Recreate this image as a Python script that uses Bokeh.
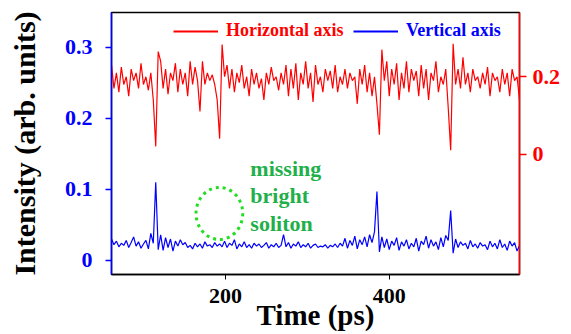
import numpy as np
from bokeh.plotting import figure
from bokeh.models import (Range1d, LinearAxis, FixedTicker, Legend, LegendItem,
                          NumeralTickFormatter)
from bokeh.core.properties import value
from bokeh.embed import file_html
from bokeh.resources import INLINE

# ---- data ----
time_ps = list(range(61, 560, 3))  # 167 samples

horizontal_axis = [  # right axis (red)
    0.23, 0.17, 0.21, 0.16, 0.225, 0.18, 0.20, 0.15, 0.22, 0.19,
    0.21, 0.17, 0.235, 0.18, 0.20, 0.165, 0.21, 0.14, 0.02, 0.265,
    0.24, 0.17, 0.22, 0.155, 0.21, 0.19, 0.235, 0.16, 0.22, 0.18,
    0.21, 0.15, 0.24, 0.18, 0.225, 0.19, 0.11, 0.24, 0.18, 0.21,
    0.19, 0.205, 0.18, 0.14, 0.04, 0.283, 0.20, 0.23, 0.17, 0.22,
    0.16, 0.21, 0.185, 0.23, 0.17, 0.20, 0.15, 0.22, 0.18, 0.21,
    0.17, 0.195, 0.14, 0.21, 0.18, 0.225, 0.19, 0.20, 0.165, 0.21,
    0.18, 0.23, 0.15, 0.22, 0.17, 0.235, 0.14, 0.21, 0.18, 0.24,
    0.17, 0.21, 0.135, 0.23, 0.18, 0.20, 0.16, 0.22, 0.19, 0.215,
    0.17, 0.23, 0.16, 0.20, 0.18, 0.22, 0.17, 0.21, 0.19, 0.20,
    0.13, 0.22, 0.18, 0.23, 0.16, 0.21, 0.15, 0.20, 0.13, 0.05,
    0.27, 0.19, 0.24, 0.15, 0.22, 0.18, 0.235, 0.14, 0.21, 0.17,
    0.24, 0.16, 0.22, 0.19, 0.215, 0.15, 0.23, 0.17, 0.22, 0.14,
    0.21, 0.19, 0.24, 0.16, 0.20, 0.18, 0.22, 0.12, 0.01, 0.285,
    0.18, 0.22, 0.17, 0.25, 0.18, 0.21, 0.16, 0.22, 0.19, 0.20,
    0.17, 0.21, 0.18, 0.225, 0.15, 0.21, 0.19, 0.20, 0.16, 0.22,
    0.18, 0.21, 0.15, 0.22, 0.19, 0.20, 0.14,
]

vertical_axis = [  # left axis (blue)
    0.030, 0.022, 0.027, 0.019, 0.024, 0.021, 0.028, 0.018, 0.025, 0.033,
    0.020, 0.026, 0.017, 0.023, 0.028, 0.016, 0.038, 0.024, 0.110, 0.015,
    0.036, 0.014, 0.032, 0.018, 0.030, 0.013, 0.027, 0.020, 0.029, 0.022,
    0.025, 0.018, 0.021, 0.016, 0.024, 0.019, 0.023, 0.017, 0.026, 0.020,
    0.022, 0.018, 0.025, 0.020, 0.023, 0.019, 0.027, 0.018, 0.024, 0.021,
    0.029, 0.016, 0.023, 0.019, 0.026, 0.018, 0.022, 0.017, 0.024, 0.020,
    0.023, 0.018, 0.021, 0.025, 0.017, 0.022, 0.019, 0.024, 0.018, 0.021,
    0.036, 0.019, 0.025, 0.017, 0.023, 0.020, 0.026, 0.018, 0.022, 0.019,
    0.024, 0.017, 0.021, 0.023, 0.018, 0.020, 0.019, 0.022, 0.017, 0.021,
    0.019, 0.023, 0.018, 0.024, 0.020, 0.031, 0.017, 0.028, 0.021, 0.034,
    0.016, 0.029, 0.022, 0.033, 0.019, 0.036, 0.025, 0.040, 0.097, 0.012,
    0.033, 0.018, 0.030, 0.015, 0.027, 0.021, 0.032, 0.014, 0.026, 0.020,
    0.029, 0.016, 0.024, 0.019, 0.031, 0.013, 0.027, 0.022, 0.034, 0.017,
    0.029, 0.020, 0.026, 0.015, 0.032, 0.019, 0.035, 0.028, 0.070, 0.010,
    0.030, 0.018, 0.026, 0.021, 0.024, 0.016, 0.028, 0.019, 0.023, 0.017,
    0.025, 0.020, 0.022, 0.015, 0.027, 0.019, 0.024, 0.016, 0.029, 0.018,
    0.023, 0.014, 0.027, 0.020, 0.025, 0.013, 0.021,
]

x_ticks = [200, 400]
left_ticks = [0, 0.1, 0.2, 0.3]
right_ticks = [0, 0.2]
note_lines = ["missing", "bright", "soliton"]
note_x = [230.5, 230.5, 230.5]
note_y = [0.1288, 0.0907, 0.0512]
circle_center = (192.7, 0.066)
circle_size = (57.0, 0.0733)

FONT = "'Liberation Serif', 'Times New Roman', serif"
RED = "#ff0000"
BLUE = "#0000ff"
GREEN_TXT = "#1fb04a"
GREEN_CIRC = "#22dd22"

p = figure(width=571, height=334, output_backend="svg", toolbar_location=None,
           x_range=Range1d(61, 559), y_range=Range1d(-0.020, 0.349),
           min_border_left=111, min_border_right=52, min_border_top=12,
           min_border_bottom=60)
p.extra_y_ranges = {"r": Range1d(-0.311, 0.366)}
p.xgrid.visible = False
p.ygrid.visible = False
p.outline_line_color = "black"
p.outline_line_width = 1.5

# lines
r_red = p.line(time_ps, horizontal_axis, color=RED, line_width=1.2, y_range_name="r")
r_blue = p.line(time_ps, vertical_axis, color=BLUE, line_width=1.2)
# legend-key renderers (a single sample each, which draws no visible segment)
k_red = p.line(time_ps[:1], horizontal_axis[:1], color=RED, line_width=2.2,
               y_range_name="r")
k_blue = p.line(time_ps[:1], vertical_axis[:1], color=BLUE, line_width=2.2)

# annotation
p.ellipse(x=[circle_center[0]], y=[circle_center[1]], width=circle_size[0],
          height=circle_size[1], fill_color=None, line_color=GREEN_CIRC,
          line_width=3, line_dash="3 4")
p.text(x=note_x, y=note_y, text=note_lines, text_font=value(FONT),
       text_font_style="bold", text_font_size="22px", text_color=GREEN_TXT,
       text_baseline="alphabetic", text_align="left")

# bottom axis
xa = p.xaxis[0]
xa.ticker = FixedTicker(ticks=x_ticks)
xa.minor_tick_line_color = None
xa.major_tick_in = 0
xa.major_tick_out = 5
xa.major_label_standoff = 9
xa.major_label_text_font = FONT
xa.major_label_text_font_style = "bold"
xa.major_label_text_font_size = "22px"
xa.major_label_text_color = "black"
xa.axis_line_color = "black"
xa.axis_line_width = 1.5
xa.axis_label = "Time (ps)"
xa.axis_label_text_font = FONT
xa.axis_label_text_font_style = "bold"
xa.axis_label_text_font_size = "29px"
xa.axis_label_text_color = "black"
xa.axis_label_text_line_height = 1.0
xa.axis_label_standoff = -7

# left axis
ya = p.yaxis[0]
ya.ticker = FixedTicker(ticks=left_ticks)
ya.formatter = NumeralTickFormatter(format="0.[0]")
ya.minor_tick_line_color = None
ya.major_tick_in = 0
ya.major_tick_out = 6
ya.major_tick_line_color = BLUE
ya.major_tick_line_width = 1.5
ya.axis_line_color = BLUE
ya.axis_line_width = 1.5
ya.major_label_standoff = 13
ya.major_label_text_font = FONT
ya.major_label_text_font_style = "bold"
ya.major_label_text_font_size = "22px"
ya.major_label_text_color = BLUE
ya.axis_label = "Intensity (arb. units)"
ya.axis_label_text_font = FONT
ya.axis_label_text_font_style = "bold"
ya.axis_label_text_font_size = "30px"
ya.axis_label_text_color = "black"
ya.axis_label_standoff = 21

# right axis
ra = LinearAxis(y_range_name="r", ticker=FixedTicker(ticks=right_ticks),
                formatter=NumeralTickFormatter(format="0.[0]"))
ra.minor_tick_line_color = None
ra.major_tick_in = 0
ra.major_tick_out = 7
ra.major_tick_line_color = RED
ra.major_tick_line_width = 1.5
ra.axis_line_color = RED
ra.axis_line_width = 1.5
ra.major_label_standoff = 6
ra.major_label_text_font = FONT
ra.major_label_text_font_style = "bold"
ra.major_label_text_font_size = "22px"
ra.major_label_text_color = RED
p.add_layout(ra, "right")

# legends
def make_legend(label, rend, color, loc):
    lg = Legend(items=[LegendItem(label=label, renderers=[rend])], location=loc,
                border_line_color=None, background_fill_alpha=0, padding=4,
                glyph_width=45, label_standoff=8, margin=0,
                label_text_font=FONT, label_text_font_style="bold",
                label_text_font_size="18px", label_text_color=color)
    return lg

p.add_layout(make_legend("Horizontal axis", k_red, RED, (62, 233)))
p.add_layout(make_legend("Vertical axis", k_blue, BLUE, (242, 233)))

open("out.html", "w").write(file_html(p, INLINE))
